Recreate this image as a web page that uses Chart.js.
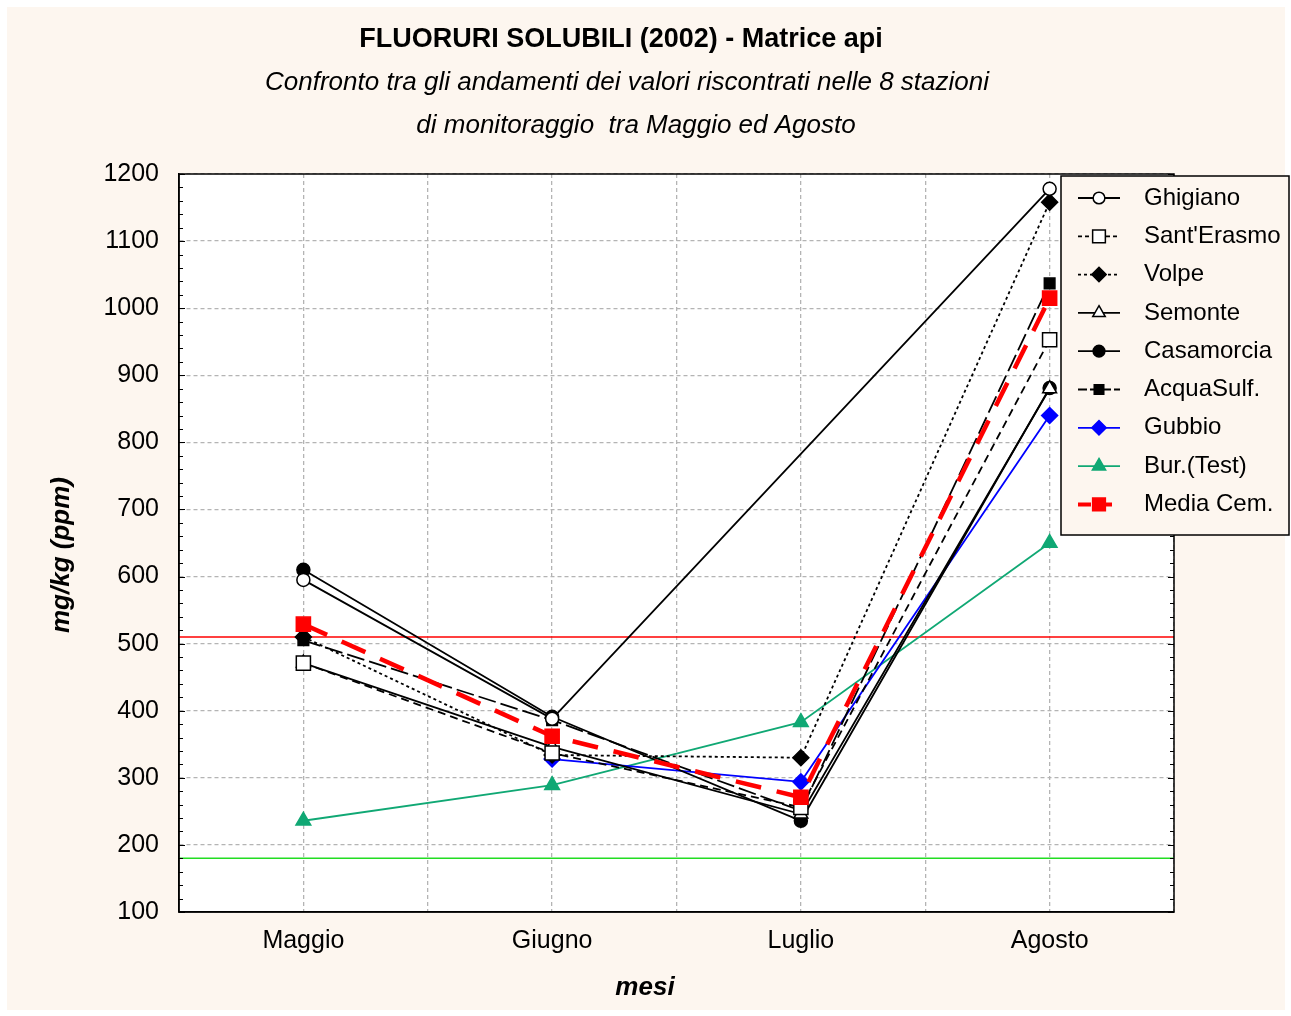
<!DOCTYPE html>
<html>
<head>
<meta charset="utf-8">
<script src="https://cdn.jsdelivr.net/npm/chart.js@4/dist/chart.umd.min.js"></script>
<style>
  html, body { margin: 0; padding: 0; background: #fff; }
  #wrap { position: relative; width: 1291px; height: 1016px; }
</style>
</head>
<body>
<div id="wrap"><canvas id="chart" width="1291" height="1016"></canvas></div>
<script>
const months = ['Maggio', 'Giugno', 'Luglio', 'Agosto'];
const yTicks = { min: 100, max: 1200, step: 100 };

const ghigiano   = [595, 388, null, 1178];
const santErasmo = [471, 337, 256, 953];
const volpe      = [510, 334, 330, 1158];
const semonte    = [471, 346, 246, 880];
const casamorcia = [610, 391, 236, 881];
const acquaSulf  = [505, 386, 251, 1037];
const gubbio     = [null, 328, 294, 840];
const bur        = [236, 289, 383, 650];
const mediaCem   = [529, 362, 271, 1015];

const limitRed = 510;
const limitGreen = 180;

const FONT = '"Liberation Sans", Arial, sans-serif';
const CREAM = '#fdf6ef';

function pts(values) {
    return values.map((v, i) => ({ x: i + 1, y: v }));
}

function series(label, values, style) {
    return Object.assign({
        label: label,
        data: pts(values),
        borderColor: '#000',
        backgroundColor: '#000',
        pointBorderColor: '#000',
        borderWidth: 1.8,
        pointBorderWidth: 1.5,
        pointRadius: 7,
        pointHoverRadius: 7,
        spanGaps: true,
        tension: 0,
        order: 2
    }, style);
}

function refLine(value, color) {
    return {
        label: '',
        isRef: true,
        data: [{ x: 0.5, y: value }, { x: 4.5, y: value }],
        borderColor: color,
        borderWidth: 1.5,
        pointRadius: 0,
        order: 5
    };
}

const datasets = [
    series('Ghigiano', ghigiano, { pointStyle: 'circle', backgroundColor: '#fff', pointRadius: 6.5 }),
    series("Sant'Erasmo", santErasmo, { pointStyle: 'rect', backgroundColor: '#fff', pointRadius: 10, borderDash: [8, 5] }),
    series('Volpe', volpe, { pointStyle: 'rectRot', pointRadius: 8, borderDash: [3, 3] }),
    series('Semonte', semonte, { pointStyle: 'triangle', backgroundColor: '#fff', pointRadius: 8 }),
    series('Casamorcia', casamorcia, { pointStyle: 'circle', pointRadius: 6.5 }),
    series('AcquaSulf.', acquaSulf, { pointStyle: 'rect', pointRadius: 7.5, borderDash: [18, 5] }),
    series('Gubbio', gubbio, { pointStyle: 'rectRot', borderColor: '#0000ff', backgroundColor: '#0000ff', pointBorderColor: '#0000ff', pointRadius: 8, spanGaps: false }),
    series('Bur.(Test)', bur, { pointStyle: 'triangle', borderColor: '#10a874', backgroundColor: '#10a874', pointBorderColor: '#10a874', pointRadius: 8.5 }),
    series('Media Cem.', mediaCem, { pointStyle: 'rect', borderColor: '#ff0000', backgroundColor: '#ff0000', pointBorderColor: '#ff0000', borderWidth: 4.5, pointRadius: 10, borderDash: [26, 16], order: 1 }),
    refLine(limitRed, '#ff0000'),
    refLine(limitGreen, '#22dd22')
];

const decor = {
    id: 'decor',
    beforeDraw(chart) {
        const ctx = chart.ctx;
        const a = chart.chartArea;
        ctx.save();
        ctx.fillStyle = '#fff';
        ctx.fillRect(0, 0, chart.width, chart.height);
        ctx.fillStyle = CREAM;
        ctx.fillRect(7, 7, 1278, 1003);
        ctx.fillStyle = '#fff';
        ctx.fillRect(a.left, a.top, a.right - a.left, a.bottom - a.top);
        ctx.restore();
    },
    afterDraw(chart) {
        const ctx = chart.ctx;
        const a = chart.chartArea;
        const y = chart.scales.y;
        ctx.save();

        // titles
        ctx.fillStyle = '#000';
        ctx.textAlign = 'center';
        ctx.textBaseline = 'middle';
        ctx.font = 'bold 27px ' + FONT;
        ctx.fillText('FLUORURI SOLUBILI (2002) - Matrice api', 621, 40);
        ctx.font = 'italic 26px ' + FONT;
        ctx.fillText('Confronto tra gli andamenti dei valori riscontrati nelle 8 stazioni', 627, 83);
        ctx.fillText('di monitoraggio  tra Maggio ed Agosto', 636, 126);

        // axis titles
        ctx.font = 'italic bold 26px ' + FONT;
        ctx.fillText('mesi', 645, 988);
        ctx.save();
        ctx.translate(62, 555);
        ctx.rotate(-Math.PI / 2);
        ctx.fillText('mg/kg (ppm)', 0, 0);
        ctx.restore();

        // frame
        ctx.strokeStyle = '#000';
        ctx.lineWidth = 1.5;
        ctx.strokeRect(a.left, a.top, a.right - a.left, a.bottom - a.top);

        // minor ticks on both sides
        ctx.lineWidth = 1;
        for (let v = yTicks.min; v <= yTicks.max; v += 20) {
            const py = Math.round(y.getPixelForValue(v)) + 0.5;
            const len = v % 100 === 0 ? 6 : 4;
            ctx.beginPath();
            ctx.moveTo(a.left, py); ctx.lineTo(a.left + len, py);
            ctx.moveTo(a.right, py); ctx.lineTo(a.right - len, py);
            ctx.stroke();
        }

        // legend
        const lx = 1061, ly = 176, lw = 228, lh = 359;
        ctx.fillStyle = CREAM;
        ctx.fillRect(lx, ly, lw, lh);
        ctx.strokeStyle = '#000';
        ctx.lineWidth = 1.5;
        ctx.strokeRect(lx, ly, lw, lh);
        ctx.font = '24px ' + FONT;
        ctx.textAlign = 'left';
        chart.data.datasets.filter(d => !d.isRef).forEach((d, i) => {
            const cy = 198 + i * 38.3;
            ctx.save();
            ctx.strokeStyle = d.borderColor;
            ctx.lineWidth = Math.min(d.borderWidth, 4);
            ctx.setLineDash(d.borderDash ? d.borderDash.map(n => Math.max(3, n / 2)) : []);
            ctx.beginPath();
            ctx.moveTo(1078, cy); ctx.lineTo(1120, cy);
            ctx.stroke();
            ctx.setLineDash([]);
            ctx.fillStyle = d.backgroundColor;
            ctx.strokeStyle = d.pointBorderColor;
            ctx.lineWidth = 1.5;
            Chart.helpers.drawPoint(ctx, {
                pointStyle: d.pointStyle,
                radius: d.pointRadius * 0.9,
                borderWidth: 1.5,
                rotation: 0
            }, 1099, cy);
            ctx.restore();
            ctx.fillStyle = '#000';
            ctx.fillText(d.label, 1144, cy);
        });
        ctx.restore();
    }
};

new Chart(document.getElementById('chart').getContext('2d'), {
    type: 'line',
    data: { datasets: datasets },
    options: {
        responsive: false,
        animation: false,
        layout: { padding: { left: 49, right: 117, top: 174, bottom: 6 } },
        plugins: {
            legend: { display: false },
            title: { display: false },
            tooltip: { enabled: false }
        },
        scales: {
            x: {
                type: 'linear',
                min: 0.5,
                max: 4.5,
                afterFit(scale) { scale.height = 98; },
                afterBuildTicks(scale) {
                    scale.ticks = [];
                    for (let v = 0.5; v <= 4.5; v += 0.5) scale.ticks.push({ value: v });
                },
                grid: { color: '#b4b4b4', lineWidth: 1.3, drawTicks: false },
                border: { display: true, color: '#000', width: 1.5, dash: [4, 3] },
                ticks: {
                    padding: 14,
                    color: '#000',
                    font: { family: FONT, size: 25 },
                    autoSkip: false,
                    maxRotation: 0,
                    callback: v => Number.isInteger(v) ? months[v - 1] : ''
                }
            },
            y: {
                min: yTicks.min,
                max: yTicks.max,
                afterFit(scale) { scale.width = 130; },
                grid: { color: '#b4b4b4', lineWidth: 1.3, drawTicks: false },
                border: { color: '#000', width: 1.5, dash: [4, 3] },
                ticks: {
                    stepSize: yTicks.step,
                    padding: 20,
                    color: '#000',
                    font: { family: FONT, size: 25 },
                    callback: v => String(v)
                }
            }
        }
    },
    plugins: [decor]
});
</script>
</body>
</html>
